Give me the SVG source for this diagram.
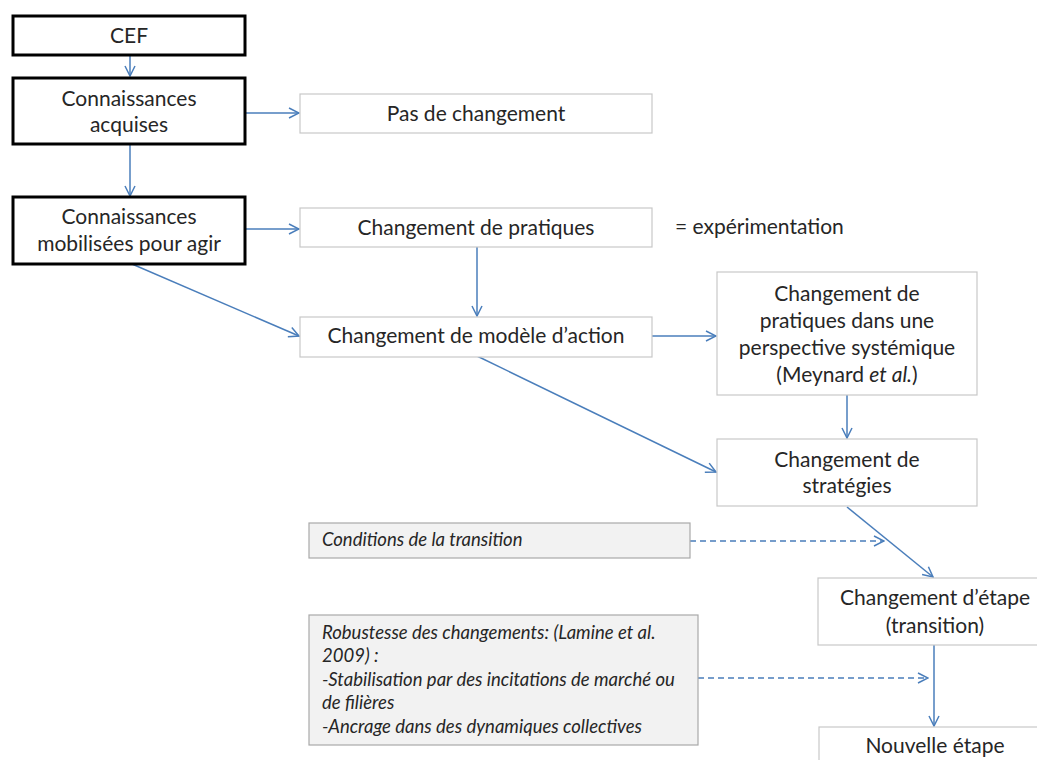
<svg xmlns="http://www.w3.org/2000/svg" width="1037" height="760" viewBox="0 0 1037 760">
<style>
.t{font-family:Lato,"Liberation Sans",sans-serif;font-size:21px;fill:#262626;text-anchor:middle}
.i{font-family:Lato,"Liberation Sans",sans-serif;font-size:18.5px;fill:#262626;font-style:italic}
.bk{fill:#fff;stroke:#000;stroke-width:3}
.wb{fill:#fff;stroke:#c8c8c8;stroke-width:1.2}
.gb{fill:#f2f2f2;stroke:#a9a9a9;stroke-width:1.2}
.c{stroke:#4a7ebb;stroke-width:1.5;fill:none;marker-end:url(#ah)}
.d{stroke:#4a7ebb;stroke-width:1.3;fill:none;stroke-dasharray:6 4;marker-end:url(#ah)}
</style>
<defs>
<marker id="ah" viewBox="0 0 12 12" refX="11" refY="6" markerWidth="12" markerHeight="12" markerUnits="userSpaceOnUse" orient="auto">
<path d="M1,1 L11,6 L1,11" fill="none" stroke="#4a7ebb" stroke-width="1.5"/>
</marker>
</defs>
<rect width="1037" height="760" fill="#fff"/>
<g id="connectors">
<line class="c" x1="130" y1="56" x2="130" y2="76"/>
<line class="c" x1="130" y1="145" x2="130" y2="196"/>
<line class="c" x1="246" y1="113" x2="299" y2="113"/>
<line class="c" x1="246" y1="229" x2="299" y2="229"/>
<line class="c" x1="132" y1="264" x2="299" y2="336"/>
<line class="c" x1="477" y1="247" x2="477" y2="316"/>
<line class="c" x1="652" y1="336" x2="716" y2="336"/>
<line class="c" x1="477" y1="356" x2="716" y2="472"/>
<line class="c" x1="847" y1="395" x2="847" y2="438"/>
<line class="c" x1="847" y1="507" x2="933" y2="577"/>
<line class="c" x1="934" y1="645" x2="934" y2="726"/>
<line class="d" x1="690" y1="541" x2="884" y2="541"/>
<line class="d" x1="698" y1="678" x2="928" y2="678"/>
</g>
<g id="cef">
<rect class="bk" x="13" y="16" width="232" height="39"/>
<text class="t" x="129" y="43">CEF</text>
</g>
<g id="acquises">
<rect class="bk" x="13" y="78" width="232" height="66"/>
<text class="t" x="129" y="106">Connaissances</text>
<text class="t" x="129" y="132">acquises</text>
</g>
<g id="mobilisees">
<rect class="bk" x="13" y="197" width="232" height="67"/>
<text class="t" x="129" y="224">Connaissances</text>
<text class="t" x="129" y="251">mobilisées pour agir</text>
</g>
<g id="pas-de-changement">
<rect class="wb" x="300" y="94" width="352" height="39"/>
<text class="t" x="476" y="121">Pas de changement</text>
</g>
<g id="changement-pratiques">
<rect class="wb" x="300" y="208" width="352" height="39"/>
<text class="t" x="476" y="235">Changement de pratiques</text>
</g>
<g id="experimentation">
<text class="t" x="675" y="234" style="text-anchor:start">= expérimentation</text>
</g>
<g id="changement-modele">
<rect class="wb" x="300" y="317" width="352" height="40"/>
<text class="t" x="476" y="343">Changement de modèle d’action</text>
</g>
<g id="systemique">
<rect class="wb" x="717" y="272" width="260" height="123"/>
<text class="t" x="847" y="301">Changement de</text>
<text class="t" x="847" y="328">pratiques dans une</text>
<text class="t" x="847" y="355">perspective systémique</text>
<text class="t" x="847" y="382">(Meynard <tspan font-style="italic">et al.</tspan>)</text>
</g>
<g id="strategies">
<rect class="wb" x="717" y="439" width="260" height="67"/>
<text class="t" x="847" y="467">Changement de</text>
<text class="t" x="847" y="493">stratégies</text>
</g>
<g id="conditions">
<rect class="gb" x="309" y="523" width="381" height="35"/>
<text class="i" x="322" y="546">Conditions de la transition</text>
</g>
<g id="etape">
<rect class="wb" x="818" y="578" width="234" height="67"/>
<text class="t" x="935" y="605">Changement d’étape</text>
<text class="t" x="935" y="633">(transition)</text>
</g>
<g id="robustesse">
<rect class="gb" x="309" y="615" width="389" height="130"/>
<text class="i" x="322" y="639">Robustesse des changements: (Lamine et al.</text>
<text class="i" x="322" y="662">2009) :</text>
<text class="i" x="322" y="686">-Stabilisation par des incitations de marché ou</text>
<text class="i" x="322" y="709">de filières</text>
<text class="i" x="322" y="733">-Ancrage dans des dynamiques collectives</text>
</g>
<g id="nouvelle-etape">
<rect class="wb" x="819" y="727" width="234" height="50"/>
<text class="t" x="935" y="753">Nouvelle étape</text>
</g>
</svg>
